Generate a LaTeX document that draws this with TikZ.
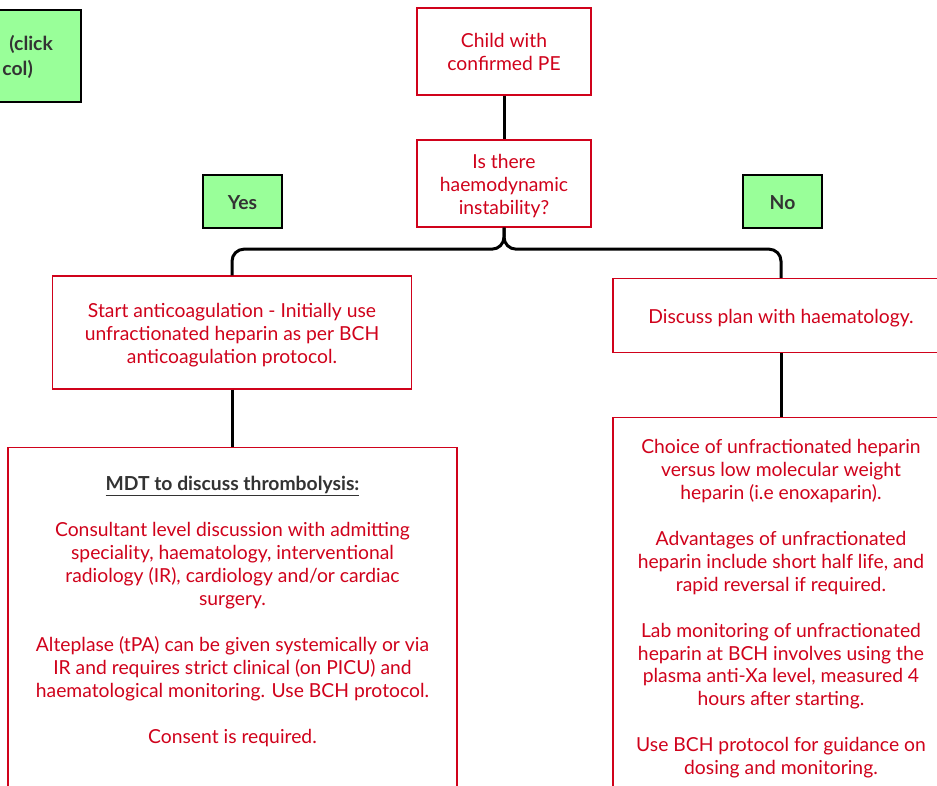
\documentclass[tikz,border=0pt]{standalone}
\usepackage{fontspec}
\setmainfont{Lato}
\definecolor{myred}{RGB}{208,2,27}
\definecolor{mygray}{RGB}{51,51,51}
\definecolor{mygreen}{RGB}{153,255,153}
\newcommand\mytopstrut[1]{\rule{0pt}{#1}}
\begin{document}
\begin{tikzpicture}[x=1pt,y=-1pt,
  every node/.style={font=\fontsize{19.3}{23}\selectfont, inner sep=0pt, align=center},
  redbox/.style={draw=myred, line width=1.3pt, fill=white, text=myred},
  greenbox/.style={draw=black, line width=2pt, fill=mygreen, text=mygray, font=\fontsize{19.3}{23}\selectfont\bfseries},
  conn/.style={draw=black, line width=3pt},
  txt/.style={text=myred}]
\useasboundingbox (0,0) rectangle (937,786);
\clip (0,0) rectangle (937,786);
% top-left partly visible box
\node[greenbox, minimum width=201, minimum height=92] (link) at (-19.5,56) {};
\node[text=mygray, font=\fontsize{19.3}{23}\selectfont\bfseries, anchor=east] (linka) at (53,44) {(click};
\node[text=mygray, font=\fontsize{19.3}{23}\selectfont\bfseries, anchor=east] (linkb) at (33,69) {col)};
% main nodes
\node[redbox, minimum width=174, minimum height=87] (child) at (504,51.5) {\mytopstrut{16pt}Child with\\confirmed PE};
\node[redbox, minimum width=174, minimum height=87] (isthere) at (504,183.5) {\mytopstrut{20pt}Is there\\haemodynamic\\instability?};
\node[greenbox, minimum width=79, minimum height=53] (yes) at (242.5,201.5) {\mytopstrut{16pt}Yes};
\node[greenbox, minimum width=79, minimum height=53] (no) at (782.5,201.5) {\mytopstrut{16pt}No};
\node[redbox, minimum width=359, minimum height=113] (start) at (232,332.5) {\mytopstrut{20pt}Start anticoagulation - Initially use\\unfractionated heparin as per BCH\\anticoagulation protocol.};
\node[redbox, minimum width=336, minimum height=74] (disc) at (781,315.5) {\mytopstrut{20pt}Discuss plan with haematology.};
\node[redbox, minimum width=449, minimum height=360, anchor=north] (mdt) at (232.5,447) {};
\node[txt, anchor=north] (mdttext) at (232.5,476) {{\color{mygray}\bfseries\underline{MDT to discuss thrombolysis:}}\\[23pt]
Consultant level discussion with admitting\\speciality, haematology, interventional\\radiology (IR), cardiology and/or cardiac\\surgery.\\[23pt]
Alteplase (tPA) can be given systemically or via\\IR and requires strict clinical (on PICU) and\\haematological monitoring. Use BCH protocol.\\[23pt]
Consent is required.};
\node[redbox, minimum width=336, minimum height=400, anchor=north] (choice) at (781,417) {};
\node[txt, anchor=north, font=\fontsize{19.3}{22.9}\selectfont] (choicetext) at (781,439.5) {Choice of unfractionated heparin\\versus low molecular weight\\heparin (i.e enoxaparin).\\[22.9pt]
Advantages of unfractionated\\heparin include short half life, and\\rapid reversal if required.\\[22.9pt]
Lab monitoring of unfractionated\\heparin at BCH involves using the\\plasma anti-Xa level, measured 4\\hours after starting.\\[22.9pt]
Use BCH protocol for guidance on\\dosing and monitoring.};
% connectors
\draw[conn] (child.south) -- (isthere.north);
\draw[conn, rounded corners=12pt] (isthere.south) -- ++(0,21.5) -| (start.north);
\draw[conn, rounded corners=12pt] (isthere.south) -- ++(0,21.5) -| (disc.north);
\draw[conn] (start.south) -- (start.south |- mdt.north);
\draw[conn] (disc.south) -- (disc.south |- choice.north);
\end{tikzpicture}
\end{document}
